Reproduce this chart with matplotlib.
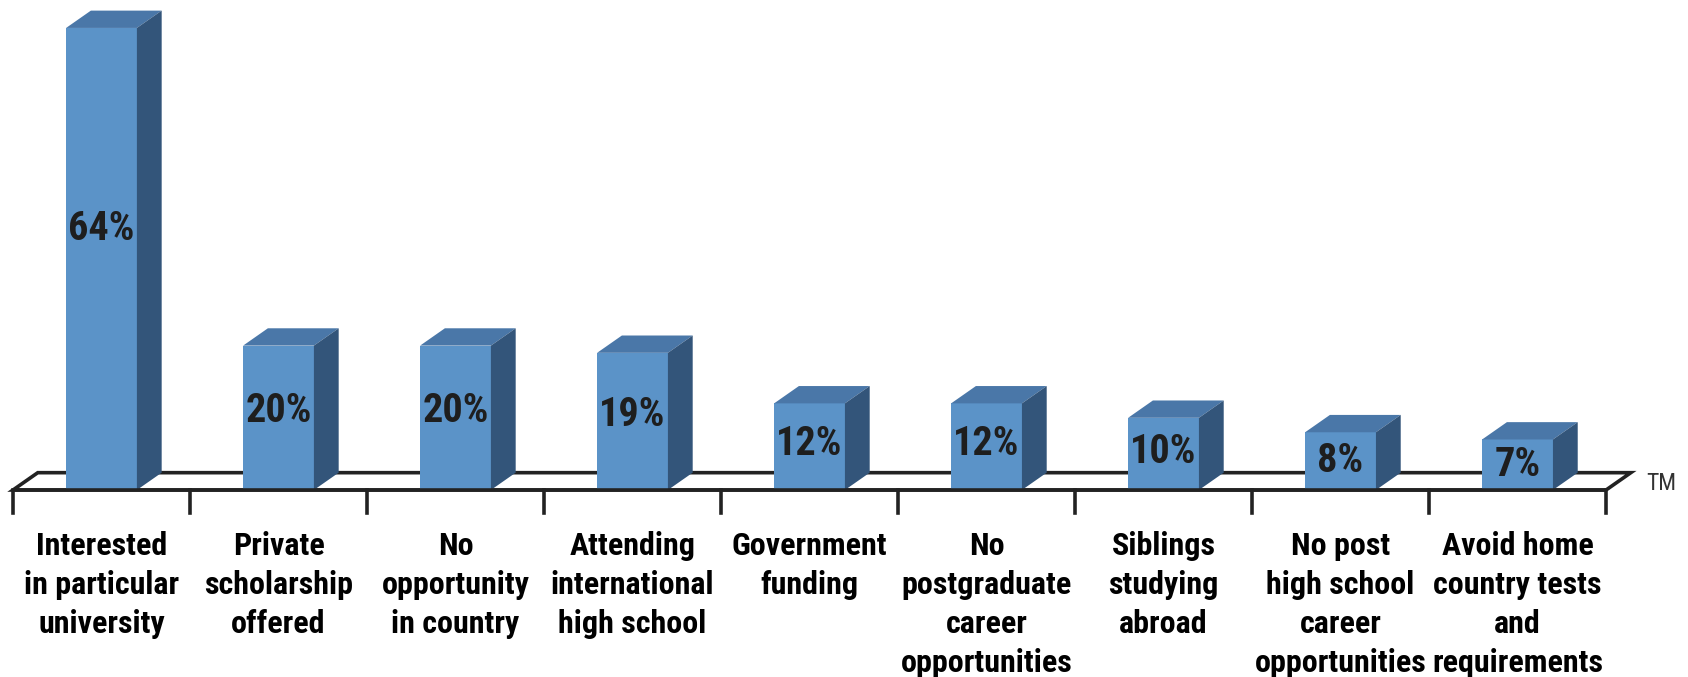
import matplotlib
matplotlib.use("Agg")
import matplotlib.pyplot as plt
from matplotlib.patches import Polygon

categories = [
    "Interested\nin particular\nuniversity",
    "Private\nscholarship\noffered",
    "No\nopportunity\nin country",
    "Attending\ninternational\nhigh school",
    "Government\nfunding",
    "No\npostgraduate\ncareer\nopportunities",
    "Siblings\nstudying\nabroad",
    "No post\nhigh school\ncareer\nopportunities",
    "Avoid home\ncountry tests\nand\nrequirements",
]
values = [64, 20, 20, 19, 12, 12, 10, 8, 7]
labels = ["64%", "20%", "20%", "19%", "12%", "12%", "10%", "8%", "7%"]

FRONT = "#5b93c8"
TOP = "#4a77a8"
SIDE = "#33557a"
NARROW = ["Roboto Condensed", "DejaVu Sans"]

fig = plt.figure(figsize=(16.88, 6.77), dpi=100)
ax = fig.add_axes([0, 0, 1, 1])
ax.set_xlim(-0.0734, 9.463)
ax.set_ylim(-25.9, 67.87)
ax.axis("off")

n = len(values)
dx, dy = 0.14, 2.4   # depth offset
w = 0.40
lw = 2.6

# floor
floor = Polygon([(0, 0), (n, 0), (n + dx, dy), (dx, dy)], closed=True,
                facecolor="white", edgecolor="#222222", linewidth=lw,
                joinstyle="miter", zorder=1)
ax.add_patch(floor)

for i, (v, lab) in enumerate(zip(values, labels)):
    x0 = i + 0.5 - w / 2
    x1 = i + 0.5 + w / 2
    ax.add_patch(Polygon([(x0, 0), (x1, 0), (x1, v), (x0, v)],
                         facecolor=FRONT, edgecolor="none", zorder=3))
    ax.add_patch(Polygon([(x0, v), (x1, v), (x1 + dx, v + dy), (x0 + dx, v + dy)],
                         facecolor=TOP, edgecolor="none", zorder=3))
    ax.add_patch(Polygon([(x1, 0), (x1 + dx, dy), (x1 + dx, v + dy), (x1, v)],
                         facecolor=SIDE, edgecolor="none", zorder=3))
    ax.text(i + 0.5, 0.573 * v - 0.5, lab, ha="center", va="center",
            fontsize=29, fontweight="bold", family=NARROW, color="#1e1e1e",
            zorder=5)
    ax.text(i + 0.5, -5.7, categories[i], ha="center", va="top",
            fontsize=23, fontweight="bold", family=NARROW, color="black",
            linespacing=1.37, multialignment="center")

# front edge on top of bars, plus ticks
ax.plot([0, n], [0, 0], color="#222222", linewidth=lw, zorder=4,
        solid_capstyle="butt")
for i in range(n + 1):
    ax.plot([i, i], [0, -3.2], color="#222222", linewidth=lw, zorder=4)

ax.text(9.31, 0.9, "TM", ha="center", va="center", fontsize=17,
        family=NARROW, color="#333333")

fig.savefig("out.png", dpi=100)
